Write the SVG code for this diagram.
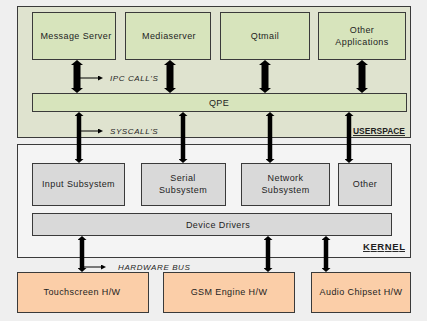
<svg xmlns="http://www.w3.org/2000/svg" width="427" height="321" viewBox="0 0 427 321">
  <defs>
    <style>
      text { font-family: "Liberation Sans", Arial, sans-serif; fill: #1e1e1e; }
      .lbl { font-size: 9px; text-anchor: middle; letter-spacing: 0.4px; }
      .note { font-size: 8px; font-style: italic; letter-spacing: 0.6px; }
      .layer { font-size: 9.5px; font-weight: bold; text-anchor: end; text-decoration: underline; }
      .frame { stroke: #3a3a3a; stroke-width: 1; }
      .user { fill: #dfe3cf; }
      .kern { fill: #f4f4f4; }
      .app { fill: #d7e4bc; }
      .sub { fill: #d9d9d9; }
      .hw { fill: #fbcea8; }
      .big { stroke: #000; stroke-width: 7; fill: none; }
      .mid { stroke: #000; stroke-width: 4.5; fill: none; }
      .thin { stroke: #000; stroke-width: 1; fill: none; }
    </style>
    <marker id="headBig" viewBox="0 0 5 12" refX="0" refY="6" markerWidth="5" markerHeight="12" markerUnits="userSpaceOnUse" orient="auto-start-reverse">
      <path d="M0,0 L5,6 L0,12 Z" fill="#000"/>
    </marker>
    <marker id="headMid" viewBox="0 0 4 9" refX="0" refY="4.5" markerWidth="4" markerHeight="9" markerUnits="userSpaceOnUse" orient="auto-start-reverse">
      <path d="M0,0 L4,4.5 L0,9 Z" fill="#000"/>
    </marker>
    <marker id="headSmall" viewBox="0 0 5 5" refX="0" refY="2.5" markerWidth="5" markerHeight="5" markerUnits="userSpaceOnUse" orient="auto">
      <path d="M0,0 L5,2.5 L0,5 Z" fill="#000"/>
    </marker>
  </defs>

  <rect x="0" y="0" width="427" height="321" fill="#efefef"/>

  <!-- layer frames -->
  <g id="userspace">
    <rect class="frame user" x="17.5" y="6.5" width="393" height="131"/>
    <text class="layer" x="405" y="134" textLength="52" lengthAdjust="spacingAndGlyphs">USERSPACE</text>
  </g>
  <g id="kernel">
    <rect class="frame kern" x="17.5" y="144.5" width="393" height="113"/>
    <text class="layer" x="405" y="250" textLength="42" lengthAdjust="spacing">KERNEL</text>
  </g>

  <!-- applications -->
  <g id="message-server">
    <rect class="frame app" x="32.5" y="12.5" width="83" height="47"/>
    <text class="lbl" x="76" y="39">Message Server</text>
  </g>
  <g id="mediaserver">
    <rect class="frame app" x="125.5" y="12.5" width="85" height="47"/>
    <text class="lbl" x="169" y="39">Mediaserver</text>
  </g>
  <g id="qtmail">
    <rect class="frame app" x="220.5" y="12.5" width="89" height="47"/>
    <text class="lbl" x="265" y="39">Qtmail</text>
  </g>
  <g id="other-applications">
    <rect class="frame app" x="318.5" y="12.5" width="87" height="47"/>
    <text class="lbl" x="362" y="33">Other</text>
    <text class="lbl" x="362" y="45">Applications</text>
  </g>
  <g id="qpe">
    <rect class="frame app" x="32.5" y="93.5" width="374" height="18"/>
    <text class="lbl" x="219" y="106">QPE</text>
  </g>

  <!-- kernel subsystems -->
  <g id="input-subsystem">
    <rect class="frame sub" x="32.5" y="163.5" width="92" height="42"/>
    <text class="lbl" x="78.5" y="187">Input Subsystem</text>
  </g>
  <g id="serial-subsystem">
    <rect class="frame sub" x="141.5" y="163.5" width="84" height="42"/>
    <text class="lbl" x="183" y="181">Serial</text>
    <text class="lbl" x="183" y="193">Subsystem</text>
  </g>
  <g id="network-subsystem">
    <rect class="frame sub" x="241.5" y="163.5" width="88" height="42"/>
    <text class="lbl" x="285.5" y="181">Network</text>
    <text class="lbl" x="285.5" y="193">Subsystem</text>
  </g>
  <g id="other-subsystem">
    <rect class="frame sub" x="338.5" y="163.5" width="53" height="42"/>
    <text class="lbl" x="365" y="187">Other</text>
  </g>
  <g id="device-drivers">
    <rect class="frame sub" x="32.5" y="213.5" width="359" height="22"/>
    <text class="lbl" x="218" y="228">Device Drivers</text>
  </g>

  <!-- hardware -->
  <g id="touchscreen-hw">
    <rect class="frame hw" x="17.5" y="272.5" width="131" height="40"/>
    <text class="lbl" x="82" y="295">Touchscreen H/W</text>
  </g>
  <g id="gsm-engine-hw">
    <rect class="frame hw" x="163.5" y="272.5" width="131" height="40"/>
    <text class="lbl" x="229" y="295">GSM Engine H/W</text>
  </g>
  <g id="audio-chipset-hw">
    <rect class="frame hw" x="311.5" y="272.5" width="99" height="40"/>
    <text class="lbl" x="361" y="295">Audio Chipset H/W</text>
  </g>

  <!-- connectors -->
  <g id="connectors">
    <!-- application <-> QPE -->
    <path class="big" d="M77,65 V88" marker-start="url(#headBig)" marker-end="url(#headBig)"/>
    <path class="big" d="M170,65 V88" marker-start="url(#headBig)" marker-end="url(#headBig)"/>
    <path class="big" d="M265,65 V88" marker-start="url(#headBig)" marker-end="url(#headBig)"/>
    <path class="big" d="M362,65 V88" marker-start="url(#headBig)" marker-end="url(#headBig)"/>
    <!-- QPE <-> subsystems -->
    <path class="mid" d="M79,116 V159" marker-start="url(#headMid)" marker-end="url(#headMid)"/>
    <path class="mid" d="M183,116 V159" marker-start="url(#headMid)" marker-end="url(#headMid)"/>
    <path class="mid" d="M270,116 V159" marker-start="url(#headMid)" marker-end="url(#headMid)"/>
    <path class="mid" d="M349,116 V159" marker-start="url(#headMid)" marker-end="url(#headMid)"/>
    <!-- device drivers <-> hardware -->
    <path class="mid" d="M82,240 V268" marker-start="url(#headMid)" marker-end="url(#headMid)"/>
    <path class="mid" d="M268,240 V268" marker-start="url(#headMid)" marker-end="url(#headMid)"/>
    <path class="mid" d="M326,240 V268" marker-start="url(#headMid)" marker-end="url(#headMid)"/>
    <!-- call type notes -->
    <path class="thin" d="M80,78 H98" marker-end="url(#headSmall)"/>
    <text class="note" x="110" y="81">IPC CALL'S</text>
    <path class="thin" d="M81,131 H98" marker-end="url(#headSmall)"/>
    <text class="note" x="110" y="134">SYSCALL'S</text>
    <path class="thin" d="M84,267 H101" marker-end="url(#headSmall)"/>
    <text class="note" x="118" y="270">HARDWARE BUS</text>
  </g>
</svg>
